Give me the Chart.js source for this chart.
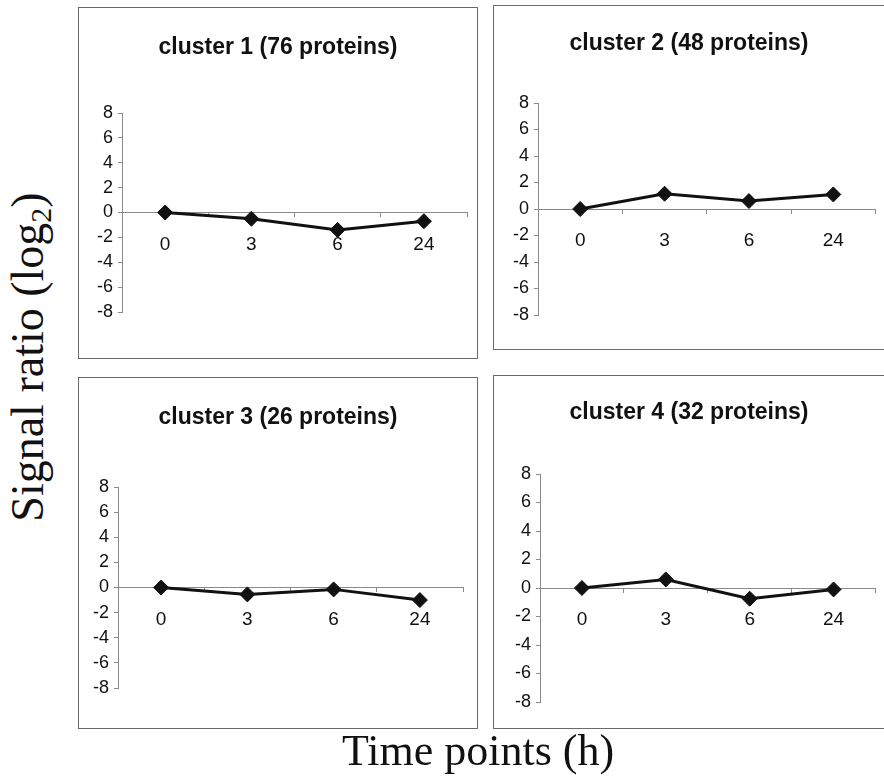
<!DOCTYPE html>
<html>
<head>
<meta charset="utf-8">
<script src="https://cdn.jsdelivr.net/npm/chart.js@4.4.1/dist/chart.umd.min.js"></script>
<style>
html,body{margin:0;padding:0;background:#fff;width:884px;height:781px;overflow:hidden;position:relative}
.panel{position:absolute;border:1px solid #6a6a6a;box-sizing:border-box;background:#fff}
.panel .inner{position:absolute;left:0;top:0;right:0;bottom:0}
.ytitle{position:absolute;width:400px;height:46px;left:-172px;top:334px;font-family:"Liberation Serif","Times New Roman",serif;font-size:46px;line-height:46px;text-align:center;color:#111;transform:rotate(-90deg);white-space:nowrap}
.ytitle sub{font-size:30px;vertical-align:-8px;line-height:0}
.xtitle{position:absolute;width:400px;left:278px;top:729px;font-family:"Liberation Serif","Times New Roman",serif;font-size:44px;line-height:44px;text-align:center;color:#111;white-space:nowrap}
</style>
</head>
<body>
<div class="panel" id="p1"><div class="inner"><canvas id="c1"></canvas></div></div>
<div class="panel" id="p2"><div class="inner"><canvas id="c2"></canvas></div></div>
<div class="panel" id="p3"><div class="inner"><canvas id="c3"></canvas></div></div>
<div class="panel" id="p4"><div class="inner"><canvas id="c4"></canvas></div></div>
<div class="ytitle">Signal ratio (log<sub>2</sub>)</div>
<div class="xtitle">Time points (h)</div>
<script>
// ---- data ----
const timeLabels = ['0', '3', '6', '24'];
const cluster1 = [0, -0.5, -1.4, -0.7];
const cluster2 = [0, 1.15, 0.6, 1.1];
const cluster3 = [0, -0.55, -0.15, -1.0];
const cluster4 = [0, 0.6, -0.75, -0.1];
const panelTitles = ['cluster 1 (76 proteins)', 'cluster 2 (48 proteins)', 'cluster 3 (26 proteins)', 'cluster 4 (32 proteins)'];
const yMin = -8, yMax = 8, yStep = 2;

// ---- layout (positions / sizes only) ----
const geometry = [
  {box:{l:78, t:7,   w:400, h:352}, left:43, right:10, top:105, bottom:46, titleY:40},
  {box:{l:493,t:5,   w:392, h:345}, left:44, right:7,  top:97,  bottom:34, titleY:38},
  {box:{l:78, t:377, w:400, h:352}, left:39, right:14, top:109, bottom:40, titleY:40},
  {box:{l:493,t:375, w:392, h:354}, left:46, right:5,  top:98,  bottom:26, titleY:37}
];
const sans = "'Liberation Sans Narrow','Arial Narrow','Liberation Sans',Arial,sans-serif";
const seriesList = [cluster1, cluster2, cluster3, cluster4];

seriesList.forEach((values, i) => {
  const g = geometry[i];
  const p = document.getElementById('p' + (i + 1));
  p.style.left = g.box.l + 'px'; p.style.top = g.box.t + 'px';
  p.style.width = g.box.w + 'px'; p.style.height = g.box.h + 'px';
  const titleSize = 23, lh = titleSize * 1.2;
  new Chart(document.getElementById('c' + (i + 1)), {
    type: 'line',
    data: {
      labels: timeLabels,
      datasets: [{
        data: values,
        borderColor: '#111', borderWidth: 3,
        pointStyle: 'rectRot', pointRadius: 7.5,
        pointBackgroundColor: '#111', pointBorderColor: '#111', pointBorderWidth: 1,
        tension: 0, clip: false
      }]
    },
    options: {
      responsive: true, maintainAspectRatio: false, animation: false,
      layout: {padding: {left: 0, right: 0, top: 0, bottom: g.bottom}},
      plugins: {
        legend: {display: false},
        tooltip: {enabled: false},
        title: {
          display: true, text: panelTitles[i], color: '#111',
          font: {family: sans, size: titleSize, weight: 'bold', lineHeight: 1.2},
          padding: {top: g.titleY - lh / 2, bottom: g.top - g.titleY - lh / 2}
        }
      },
      scales: {
        x: {
          type: 'category', position: {y: 0}, offset: true,
          grid: {drawOnChartArea: false, drawTicks: true, tickLength: 4, color: '#8a8a8a', offset: true},
          border: {color: '#8a8a8a', width: 1},
          ticks: {color: '#111', font: {family: sans, size: 19, lineHeight: 2.95}, maxRotation: 0, autoSkip: false, padding: 0}
        },
        y: {
          min: yMin, max: yMax,
          ticks: {stepSize: yStep, autoSkip: false, color: '#111', font: {family: sans, size: 18, lineHeight: 1}, padding: 5},
          grid: {drawOnChartArea: false, tickLength: 4, color: '#8a8a8a'},
          border: {color: '#8a8a8a', width: 1},
          afterFit: (s) => { s.width = g.left; }
        },
        spacer: {
          axis: 'y', position: 'right', display: true,
          grid: {display: false}, border: {display: false}, ticks: {display: false},
          afterFit: (s) => { s.width = g.right; }
        }
      }
    }
  });
});
</script>
</body>
</html>
